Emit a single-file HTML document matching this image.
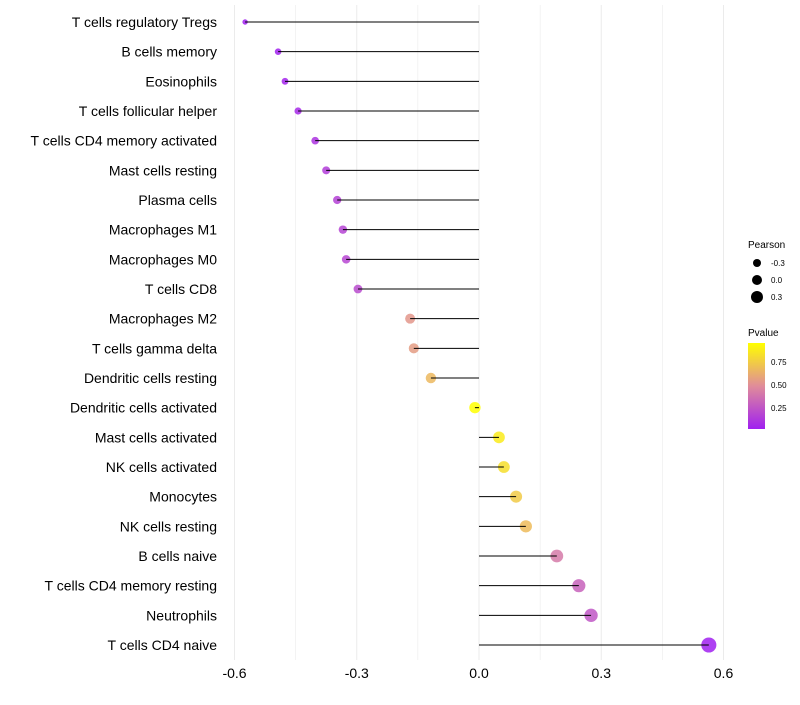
<!DOCTYPE html>
<html><head><meta charset="utf-8"><style>
body{margin:0;background:#fff;font-family:"Liberation Sans",sans-serif}
</style></head><body>
<svg id="chart" width="800" height="700" xmlns="http://www.w3.org/2000/svg">
<defs><linearGradient id="pg" x1="0" y1="1" x2="0" y2="0">
<stop offset="0" stop-color="#a020f0"/><stop offset="0.5" stop-color="#e08c9a"/><stop offset="1" stop-color="#ffff00"/>
</linearGradient></defs>
<g id="grid"></g><g id="dots"></g><g id="marks"></g><g id="labels"></g>
<g font-size="10">
<text x="748" y="248" fill="#000">Pearson</text>
<circle cx="757" cy="263" r="4"/><text x="771" y="266" font-size="8">-0.3</text>
<circle cx="757" cy="280" r="5"/><text x="771" y="283" font-size="8">0.0</text>
<circle cx="757" cy="297" r="6"/><text x="771" y="300" font-size="8">0.3</text>
<text x="748" y="336">Pvalue</text>
<rect x="748" y="343" width="17" height="86" fill="url(#pg)"/>
<text x="771" y="365" font-size="8">0.75</text>
<text x="771" y="388" font-size="8">0.50</text>
<text x="771" y="411" font-size="8">0.25</text>
</g>
</svg>
<script>
const cells=["T cells regulatory  Tregs ","B cells memory","Eosinophils","T cells follicular helper","T cells CD4 memory activated","Mast cells resting","Plasma cells","Macrophages M1","Macrophages M0","T cells CD8","Macrophages M2","T cells gamma delta","Dendritic cells resting","Dendritic cells activated","Mast cells activated","NK cells activated","Monocytes","NK cells resting","B cells naive","T cells CD4 memory resting","Neutrophils","T cells CD4 naive"];
const pearson=[-0.574,-0.493,-0.476,-0.444,-0.402,-0.375,-0.348,-0.334,-0.326,-0.297,-0.169,-0.160,-0.118,-0.010,0.049,0.061,0.091,0.115,0.191,0.245,0.275,0.564];
const pvalue=[0.01,0.03,0.04,0.06,0.10,0.14,0.16,0.17,0.18,0.20,0.52,0.54,0.65,0.96,0.85,0.80,0.72,0.66,0.40,0.30,0.25,0.01];
const ticks=[-0.6,-0.3,0.0,0.3,0.6];
const tickLabels=["-0.6","-0.3","0.0","0.3","0.6"];
const NS="http://www.w3.org/2000/svg";
const xS=v=>479+v*407.5, yS=i=>22+i*29.667;
const rS=v=>Math.sqrt(Math.max(4,32.4+43.7*v));
function lerp(a,b,t){return a.map((x,i)=>Math.round(x+(b[i]-x)*t));}
function col(p){const lo=[160,32,240],mid=[224,140,154],hi=[255,255,0];
 const t=Math.max(0,Math.min(1,(p-0.02)/0.91));
 const c=t<0.5?lerp(lo,mid,t*2):lerp(mid,hi,(t-0.5)*2);return `rgb(${c})`;}
function mk(tag,attrs,parent){const e=document.createElementNS(NS,tag);for(const k in attrs)e.setAttribute(k,attrs[k]);parent.appendChild(e);return e;}
const grid=document.getElementById('grid'),marks=document.getElementById('marks'),dots=document.getElementById('dots'),labels=document.getElementById('labels');
for(let v=-0.6;v<=0.61;v+=0.15){const g=mk('line',{x1:xS(v),x2:xS(v),y1:5,y2:660,stroke:'#ebebeb','stroke-width':Math.abs(Math.round(v/0.3)*0.3-v)<1e-6?1:0.6},grid);

}
ticks.forEach((t,i)=>{const e=mk('text',{x:xS(t),y:678,'text-anchor':'middle','font-size':14,fill:'#000'},labels);e.textContent=tickLabels[i];

});
cells.forEach((c,i)=>{const y=yS(i);
 const l=mk('text',{x:217,y:y+5,'text-anchor':'end','font-size':14,fill:'#000','xml:space':'preserve'},labels);l.textContent=c;
 
 
 const d=mk('circle',{cx:xS(pearson[i]),cy:y,r:rS(pearson[i]),fill:col(pvalue[i]),'fill-opacity':0.85},dots);
 
 
 const ln=mk('line',{x1:xS(0),x2:xS(pearson[i]),y1:y,y2:y,stroke:'#000','stroke-width':1},marks);
 
 
});
</script>
</body></html>
